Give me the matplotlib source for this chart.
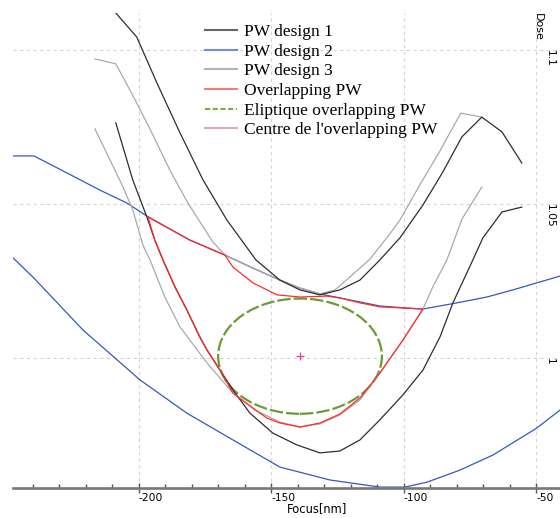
import matplotlib
matplotlib.use("Agg")
import matplotlib.pyplot as plt
from matplotlib.lines import Line2D
from matplotlib.patches import Ellipse
from matplotlib.ticker import MultipleLocator
import matplotlib.transforms as mtransforms

# PW design 1 (upper / lower dose limit)
d1_up_x = [-208.7, -200.8, -193.2, -184.5, -175.8, -166.8, -155.8, -146.8, -139.2, -131.7,
           -124.2, -116.6, -109.1, -101.5, -92.8, -85.3, -78.1, -70.6, -63.0, -55.5]
d1_up_y = [1.1120, 1.1042, 1.0893, 1.0731, 1.0578, 1.0448, 1.0318, 1.0253, 1.0221, 1.0205,
           1.0221, 1.0253, 1.0318, 1.0390, 1.0497, 1.0604, 1.0718, 1.0782, 1.0734, 1.0633]
d1_lo_x = [-208.7, -206.0, -202.3, -197.0, -194.0, -190.9, -186.4, -181.9, -177.0, -174.3,
           -169.4, -164.5, -158.1, -149.4, -140.4, -131.7, -124.2, -116.6, -109.1, -100.4,
           -92.8, -86.4, -81.5, -74.0, -70.2, -63.0, -55.5]
d1_lo_y = [1.0763, 1.0685, 1.0578, 1.0458, 1.0383, 1.0318, 1.0231, 1.0156, 1.0068, 1.0026,
           0.9961, 0.9896, 0.9821, 0.9756, 0.9718, 0.9692, 0.9698, 0.9734, 0.9799, 0.9880,
           0.9961, 1.0068, 1.0179, 1.0318, 1.0390, 1.0474, 1.0490]

# PW design 2
d2_up_x = [-247.5, -239.6, -227.2, -214.7, -204.5, -197.0, -180.8, -167.5, -157.0, -146.8,
           -139.2, -131.7, -124.2, -116.6, -109.1, -98.9, -92.8, -80.0, -68.7, -58.9, -41.1]
d2_up_y = [1.0656, 1.0656, 1.0601, 1.0545, 1.0503, 1.0461, 1.0383, 1.0334, 1.0292, 1.0253,
           1.0227, 1.0208, 1.0195, 1.0182, 1.0169, 1.0162, 1.0159, 1.0179, 1.0198, 1.0221, 1.0266]
d2_lo_x = [-247.5, -240.0, -221.1, -199.6, -181.9, -164.5, -146.8, -127.9, -109.1, -99.6,
           -91.3, -78.9, -66.4, -49.8, -41.1]
d2_lo_y = [1.0325, 1.0263, 1.0091, 0.9929, 0.9821, 0.9734, 0.9646, 0.9604, 0.9581, 0.9581,
           0.9597, 0.9636, 0.9685, 0.9773, 0.9831]

# PW design 3
d3_up_x = [-216.6, -208.7, -200.8, -194.7, -188.3, -181.5, -172.1, -167.5, -157.0, -146.8,
           -139.2, -131.7, -126.0, -120.4, -112.8, -105.3, -101.5, -94.0, -86.4, -80.8, -78.5, -70.6]
d3_up_y = [1.0971, 1.0955, 1.0828, 1.0724, 1.0610, 1.0503, 1.0377, 1.0334, 1.0292, 1.0253,
           1.0227, 1.0208, 1.0221, 1.0263, 1.0321, 1.0403, 1.0448, 1.0562, 1.0672, 1.0760, 1.0795, 1.0782]
d3_lo_x = [-216.6, -210.9, -206.0, -202.3, -198.5, -195.8, -190.2, -184.5, -174.3, -164.5,
           -156.2, -146.8, -139.2, -131.7, -124.2, -116.6, -109.1, -100.4, -92.8, -89.1,
           -83.8, -78.1, -70.6]
d3_lo_y = [1.0744, 1.0643, 1.0555, 1.0481, 1.0367, 1.0318, 1.0198, 1.0101, 0.9984, 0.9886,
           0.9831, 0.9792, 0.9776, 0.9786, 0.9815, 0.9864, 0.9951, 1.0058, 1.0159, 1.0231,
           1.0318, 1.0451, 1.0555]

# overlapping process window (closed contour)
ov_x = [-196.6, -180.8, -167.5, -164.5, -157.0, -147.9, -139.2, -129.1, -124.2, -116.6,
        -109.1, -98.9, -92.8, -100.4, -109.1, -116.6, -124.2, -131.7, -139.2, -146.8,
        -151.7, -157.0, -164.5, -169.4, -174.3, -177.0, -181.9, -186.4, -190.9, -194.0, -196.6]
ov_y = [1.0458, 1.0383, 1.0334, 1.0295, 1.0244, 1.0205, 1.0198, 1.0201, 1.0195, 1.0179,
        1.0166, 1.0162, 1.0159, 1.0058, 0.9951, 0.9870, 0.9818, 0.9789, 0.9776, 0.9789,
        0.9805, 0.9838, 0.9886, 0.9961, 1.0026, 1.0068, 1.0156, 1.0231, 1.0318, 1.0383, 1.0458]

# elliptic window: centre, half focus range, half dose range
ell_cx = -139.2
ell_cy = 1.0006
ell_dx = 30.9
ell_dy = 0.0187

xticks = [-200, -150, -100, -50]
xticklabels = ["-200", "-150", "-100", "-50"]
yticks = [1.0, 1.05, 1.1]
yticklabels = ["1", "1.05", "1.1"]

c_d1 = "#2e2e2e"
c_d2 = "#3658bd"
c_d3 = "#a9a9a9"
c_ov = "#ff2b2b"
c_el = "#6b9b37"
c_ce = "#e0409a"

fig = plt.figure(figsize=(5.6, 5.18), dpi=100)
ax = fig.add_axes([13 / 560, 30.3 / 518, 547 / 560, 474.7 / 518])
ax.set_xlim(-247.5, -41.1)
ax.set_ylim(0.9579, 1.1120)

lw = 0.9
ax.plot(d2_lo_x, d2_lo_y, color=c_d2, lw=lw)
ax.plot(d2_up_x, d2_up_y, color=c_d2, lw=lw)
ax.plot(d3_up_x, d3_up_y, color=c_d3, lw=lw)
ax.plot(d3_lo_x, d3_lo_y, color=c_d3, lw=lw)
ax.plot(d1_up_x, d1_up_y, color=c_d1, lw=lw)
ax.plot(d1_lo_x, d1_lo_y, color=c_d1, lw=lw)
ax.plot(ov_x, ov_y, color=c_ov, lw=lw)
ax.add_patch(Ellipse((ell_cx, ell_cy), 2 * ell_dx, 2 * ell_dy, fill=False,
                     ec=c_el, lw=1.6, ls=(0, (6, 1.4))))
ax.plot(ell_cx, ell_cy, marker="+", ms=6, mew=0.9, color=c_ce, ls="none")

# axes styling
for s in ["left", "right", "top"]:
    ax.spines[s].set_visible(False)
ax.spines["bottom"].set_color("#777777")
ax.spines["bottom"].set_linewidth(1.9)

ax.set_xticks(xticks)
ax.set_xticklabels(xticklabels, ha="left")
ax.xaxis.set_minor_locator(MultipleLocator(10))
ax.tick_params(axis="x", which="major", direction="inout", length=7, width=1,
               color="#555555", labelsize=7.7, pad=0)
ax.tick_params(axis="x", which="minor", direction="in", length=3, width=1, color="#555555")
ax.set_yticks(yticks)
ax.tick_params(axis="y", length=0, labelleft=False)
ax.grid(True, color="#d4d4d4", lw=0.8, ls=(0, (3, 3)))
ax.set_axisbelow(True)

ax.set_xlabel("Focus[nm]", fontsize=8.3, ha="left", va="center")
ax.xaxis.set_label_coords(0.501, -0.043)

# dose scale drawn inside the right edge
trans = mtransforms.blended_transform_factory(ax.transAxes, ax.transData)
for v, t in zip(yticks, yticklabels):
    ax.text(0.982, v, t, transform=trans, rotation=-90, ha="center", va="top",
            fontsize=7.7)
ax.text(0.960, 1.0, "Dose", transform=ax.transAxes, rotation=-90, ha="center",
        va="top", fontsize=8)

handles = [
    Line2D([], [], color="#666666", lw=1.5),
    Line2D([], [], color="#6f8fd2", lw=1.5),
    Line2D([], [], color="#b3b3b3", lw=1.5),
    Line2D([], [], color="#ff7878", lw=1.5),
    Line2D([], [], color="#7cac4a", lw=1.5, ls=(0, (2.5, 1.2))),
    Line2D([], [], color="#e9a2cb", lw=1.5),
]
labels = ["PW design 1", "PW design 2", "PW design 3", "Overlapping PW",
          "Eliptique overlapping PW", "Centre de l'overlapping PW"]
fig.legend(handles, labels, loc="upper left", bbox_to_anchor=(205 / 560, 1 - 24 / 518),
           frameon=False, borderpad=0, borderaxespad=0, handlelength=1.85,
           handletextpad=0.42, labelspacing=0.2,
           prop={"family": "Liberation Serif", "size": 12.5})

fig.savefig("out.png", dpi=100)
